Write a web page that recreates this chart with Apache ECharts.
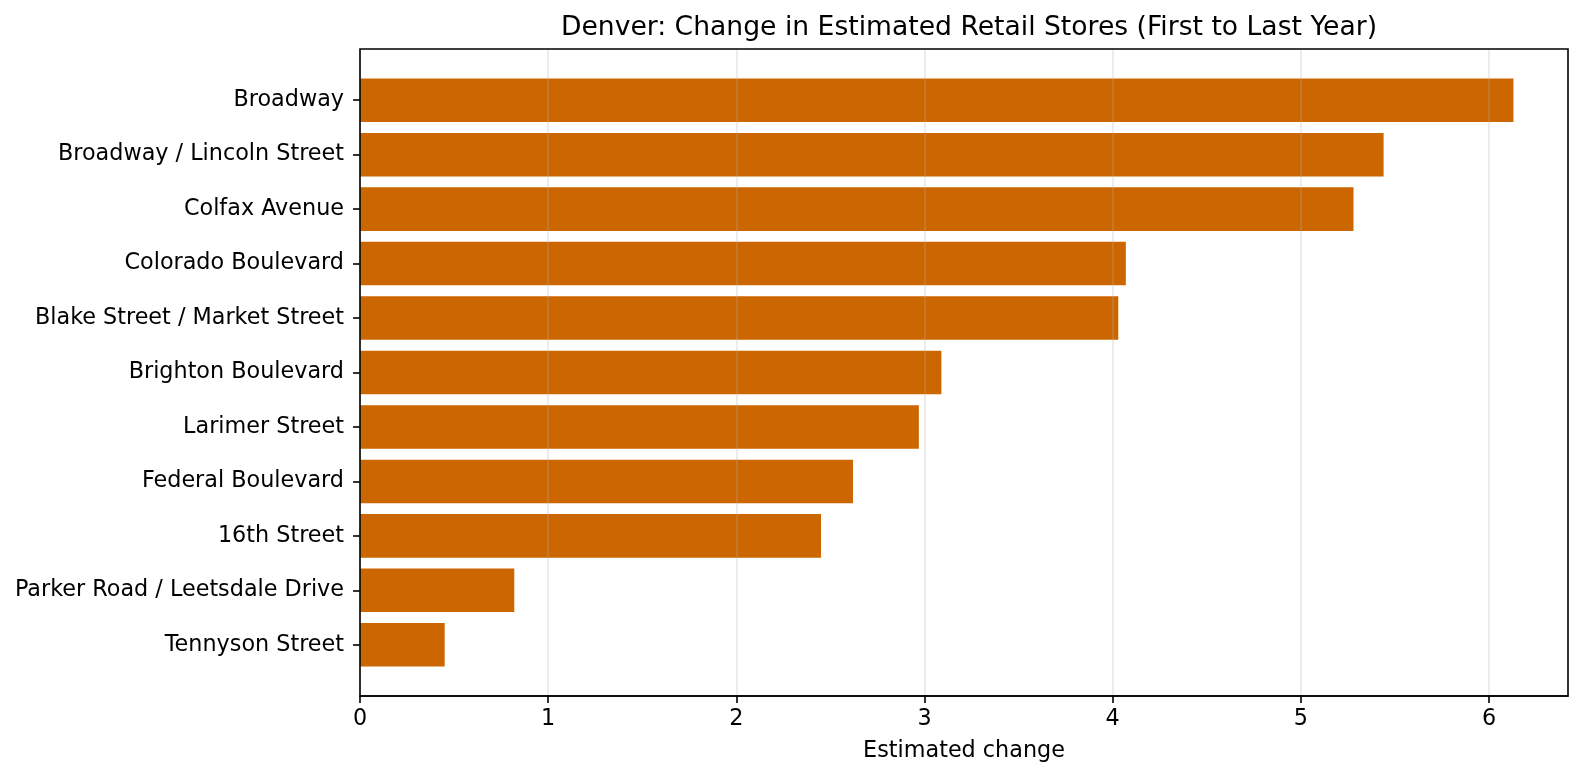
<!DOCTYPE html>
<html>
<head>
<meta charset="utf-8">
<script src="https://cdn.jsdelivr.net/npm/echarts@6/dist/echarts.min.js"></script>
<style>
	html, body { margin: 0; padding: 0; background: #fff; }
	#chart { width: 1584px; height: 776px; }
</style>
</head>
<body>
<div id="chart"></div>
<script>
// streets, top to bottom
var streets = ['Broadway', 'Broadway / Lincoln Street', 'Colfax Avenue',
		'Colorado Boulevard', 'Blake Street / Market Street',
		'Brighton Boulevard', 'Larimer Street', 'Federal Boulevard',
		'16th Street', 'Parker Road / Leetsdale Drive', 'Tennyson Street'];
var changes = [6.13, 5.44, 5.28, 4.07, 4.03, 3.09, 2.97, 2.62, 2.45, 0.82, 0.45];
var xTicks = [0, 1, 2, 3, 4, 5, 6];

var font = 'DejaVu Sans';
var xMax = 6.42;
var labelSize = 22.3;

var myChart = echarts.init(document.getElementById('chart'));

var option = {
	animation : false,
	textStyle : { fontFamily : font },
	title : {
		text : 'Denver: Change in Estimated Retail Stores (First to Last Year)',
		left : 964,
		top : 10,
		textAlign : 'center',
		textStyle : { fontFamily : font, fontSize : 26.6, fontWeight : 'normal', color : '#000' }
	},
	grid : [ {
		// frame, grid lines, x axis
		left : 360, top : 49, width : 1208, height : 647,
		show : true, z : 10,
		borderColor : '#000', borderWidth : 1.6,
		backgroundColor : 'transparent'
	}, {
		// bars (inset like matplotlib's y margins)
		left : 360, top : 73, width : 1208, height : 599
	} ],
	xAxis : [ {
		gridIndex : 0, type : 'value', min : 0, max : xMax, interval : 1, z : 5,
		axisLine : { show : true, lineStyle : { color : '#000', width : 1.6 } },
		axisTick : { show : true, length : 7, customValues : xTicks, lineStyle : { color : '#000', width : 1.6 } },
		axisLabel : { customValues : xTicks, fontSize : labelSize, color : '#000', margin : 12, fontFamily : font },
		splitLine : { show : true, lineStyle : { color : 'rgba(176,176,176,0.3)', width : 1.6 } },
		name : 'Estimated change', nameLocation : 'middle', nameGap : 44,
		nameTextStyle : { fontSize : labelSize, color : '#000', fontFamily : font }
	}, {
		gridIndex : 1, type : 'value', min : 0, max : xMax, show : false
	} ],
	yAxis : [ {
		gridIndex : 0, type : 'value', min : 0, max : 1, show : false
	}, {
		gridIndex : 1, type : 'category', inverse : true, data : streets,
		axisLine : { show : false },
		axisTick : { show : true, length : 7, alignWithLabel : true, lineStyle : { color : '#000', width : 1.6 } },
		axisLabel : { fontSize : labelSize, color : '#000', margin : 16, fontFamily : font }
	} ],
	series : [ {
		type : 'bar',
		xAxisIndex : 1,
		yAxisIndex : 1,
		data : changes,
		barCategoryGap : '20%',
		itemStyle : { color : '#CC6600' }
	} ]
};
myChart.setOption(option);
</script>
</body>
</html>
